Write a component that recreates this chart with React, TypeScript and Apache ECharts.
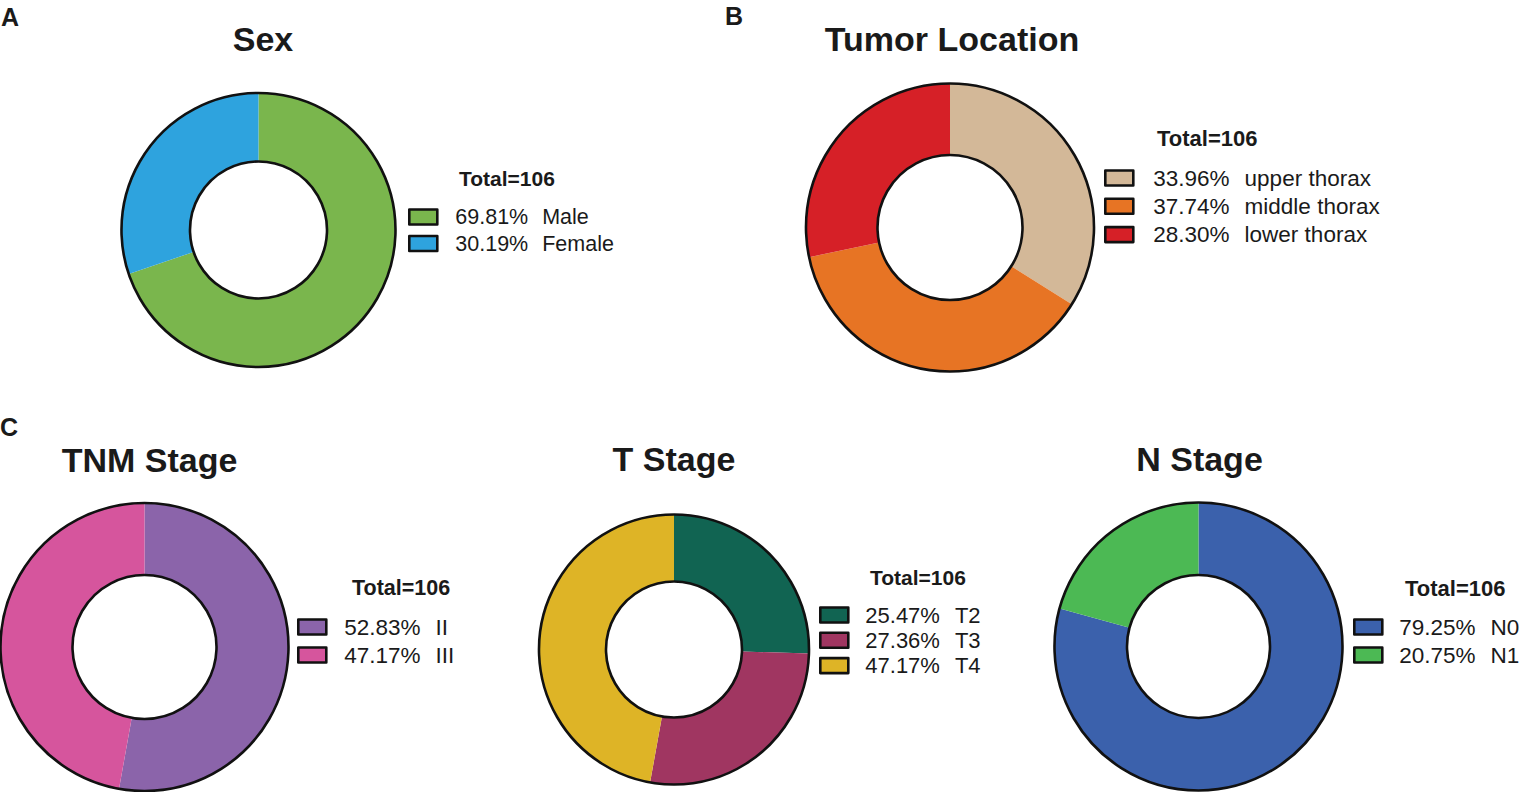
import React, { useEffect, useRef } from "react";
import * as echarts from "echarts";

// ---------- data ----------
const TOTAL = 106;

const sexLabels = ["Male", "Female"];
const sexCounts = [74, 32];
const sexColors = ["#7AB64D", "#2EA3DE"];

const locationLabels = ["upper thorax", "middle thorax", "lower thorax"];
const locationCounts = [36, 40, 30];
const locationColors = ["#D3B898", "#E77424", "#D62027"];

const tnmLabels = ["II", "III"];
const tnmCounts = [56, 50];
const tnmColors = ["#8B64AA", "#D6559D"];

const tLabels = ["T2", "T3", "T4"];
const tCounts = [27, 29, 50];
const tColors = ["#116452", "#A03661", "#DEB426"];

const nLabels = ["N0", "N1"];
const nCounts = [84, 22];
const nColors = ["#3B61AC", "#4CB954"];

const titles = ["Sex", "Tumor Location", "TNM Stage", "T Stage", "N Stage"];
const panelLetters = ["A", "B", "C"];

// ---------- layout ----------
const FONT = "'Liberation Sans', Arial, Helvetica, sans-serif";
const INK = "#1a1a1a";

type Panel = {
  title: string;
  labels: string[];
  counts: number[];
  colors: string[];
  center: [number, number];
  radius: [number, number];
  titlePos: [number, number];
  totalPos: [number, number];
  totalSize: number;
  legendLeft: number;
  firstRow: number;
  rowStep: number;
  fontSize: number;
  textPad: number;
};

const panels: Panel[] = [
  {
    title: titles[0], labels: sexLabels, counts: sexCounts, colors: sexColors,
    center: [258.5, 230], radius: [68.5, 137], titlePos: [263, 39],
    totalPos: [459, 178], totalSize: 21, legendLeft: 408, firstRow: 217, rowStep: 26.5, fontSize: 21.5, textPad: 12,
  },
  {
    title: titles[1], labels: locationLabels, counts: locationCounts, colors: locationColors,
    center: [950, 227.5], radius: [72.5, 144], titlePos: [952, 38.5],
    totalPos: [1157, 138], totalSize: 22, legendLeft: 1104, firstRow: 178, rowStep: 28.3, fontSize: 22.5, textPad: 14,
  },
  {
    title: titles[2], labels: tnmLabels, counts: tnmCounts, colors: tnmColors,
    center: [144.5, 647], radius: [72, 144], titlePos: [149.5, 459.5],
    totalPos: [352, 588], totalSize: 21.5, legendLeft: 297, firstRow: 627, rowStep: 28, fontSize: 22.5, textPad: 12,
  },
  {
    title: titles[3], labels: tLabels, counts: tCounts, colors: tColors,
    center: [674, 649.5], radius: [68, 135], titlePos: [674, 459],
    totalPos: [870, 577.5], totalSize: 21, legendLeft: 819, firstRow: 615, rowStep: 25.3, fontSize: 22, textPad: 11,
  },
  {
    title: titles[4], labels: nLabels, counts: nCounts, colors: nColors,
    center: [1198.5, 646.5], radius: [71.5, 144], titlePos: [1199.5, 459],
    totalPos: [1405, 588], totalSize: 22, legendLeft: 1353, firstRow: 627, rowStep: 28, fontSize: 22.5, textPad: 11,
  },
];

const letterPos: [number, number][] = [
  [1, 17],
  [725, 16],
  [0, 426.5],
];

function pct(count: number): string {
  return ((count / TOTAL) * 100).toFixed(2);
}

function buildOption() {
  const series: any[] = [];
  const legends: any[] = [];
  const graphics: any[] = [];

  panels.forEach((p) => {
    series.push({
      type: "pie",
      name: p.title,
      center: p.center,
      radius: p.radius,
      startAngle: 90,
      clockwise: true,
      silent: true,
      label: { show: false },
      labelLine: { show: false },
      emphasis: { disabled: true, scale: false },
      itemStyle: { borderWidth: 0 },
      data: p.labels.map((name, k) => ({
        name,
        value: p.counts[k],
        itemStyle: { color: p.colors[k] },
      })),
    });
    // black outline rings (outer + inner circle) of the donut
    series.push({
      type: "pie",
      name: p.title + " outline",
      center: p.center,
      radius: p.radius,
      startAngle: 90,
      silent: true,
      z: 3,
      label: { show: false },
      labelLine: { show: false },
      emphasis: { disabled: true, scale: false },
      itemStyle: { color: "rgba(0,0,0,0)", borderColor: "#111", borderWidth: 2.6 },
      data: [{ name: p.title + "-outline", value: p.counts.reduce((a, b) => a + b, 0) }],
    });

    const lh = Math.round(p.fontSize);
    const map: Record<string, string> = {};
    p.labels.forEach((l, k) => (map[l] = pct(p.counts[k])));
    legends.push({
      orient: "vertical",
      left: p.legendLeft,
      top: p.firstRow - lh / 2,
      padding: 0,
      itemWidth: 28,
      itemHeight: 15,
      itemGap: p.rowStep - lh,
      icon: "rect",
      selectedMode: false,
      data: p.labels,
      itemStyle: { borderColor: "#111", borderWidth: 2.6 },
      formatter: (name: string) => `{a|${map[name]}%}{b|${name}}`,
      textStyle: {
        color: INK,
        fontFamily: FONT,
        fontSize: p.fontSize,
        lineHeight: lh,
        rich: {
          a: { fontFamily: FONT, fontSize: p.fontSize, lineHeight: lh, color: INK, padding: [0, 0, 0, p.textPad + 1] },
          b: { fontFamily: FONT, fontSize: p.fontSize, lineHeight: lh, color: INK, padding: [0, 0, 0, Math.round(p.fontSize * 0.66)] },
        },
      },
    });

    graphics.push({
      type: "text",
      x: p.titlePos[0],
      y: p.titlePos[1],
      silent: true,
      style: {
        text: p.title,
        fontFamily: FONT,
        fontSize: 34,
        fontWeight: "bold",
        fill: INK,
        align: "center",
        verticalAlign: "middle",
      },
    });
    graphics.push({
      type: "text",
      x: p.totalPos[0],
      y: p.totalPos[1],
      silent: true,
      style: {
        text: `Total=${TOTAL}`,
        fontFamily: FONT,
        fontSize: p.totalSize,
        fontWeight: "bold",
        fill: INK,
        align: "left",
        verticalAlign: "middle",
      },
    });
  });

  panelLetters.forEach((l, i) => {
    graphics.push({
      type: "text",
      x: letterPos[i][0],
      y: letterPos[i][1],
      silent: true,
      style: {
        text: l,
        fontFamily: FONT,
        fontSize: 25,
        fontWeight: "bold",
        fill: INK,
        align: "left",
        verticalAlign: "middle",
      },
    });
  });

  return {
    animation: false,
    backgroundColor: "#ffffff",
    legend: legends,
    series,
    graphic: { elements: graphics },
  };
}

export default function App() {
  const ref = useRef<HTMLDivElement>(null);
  useEffect(() => {
    if (!ref.current) return;
    const chart = echarts.init(ref.current, undefined, { renderer: "svg" });
    chart.setOption(buildOption() as any);
    return () => chart.dispose();
  }, []);
  return (
    <div
      ref={ref}
      style={{ position: "fixed", left: 0, top: 0, width: 1521, height: 792, background: "#fff" }}
    />
  );
}
